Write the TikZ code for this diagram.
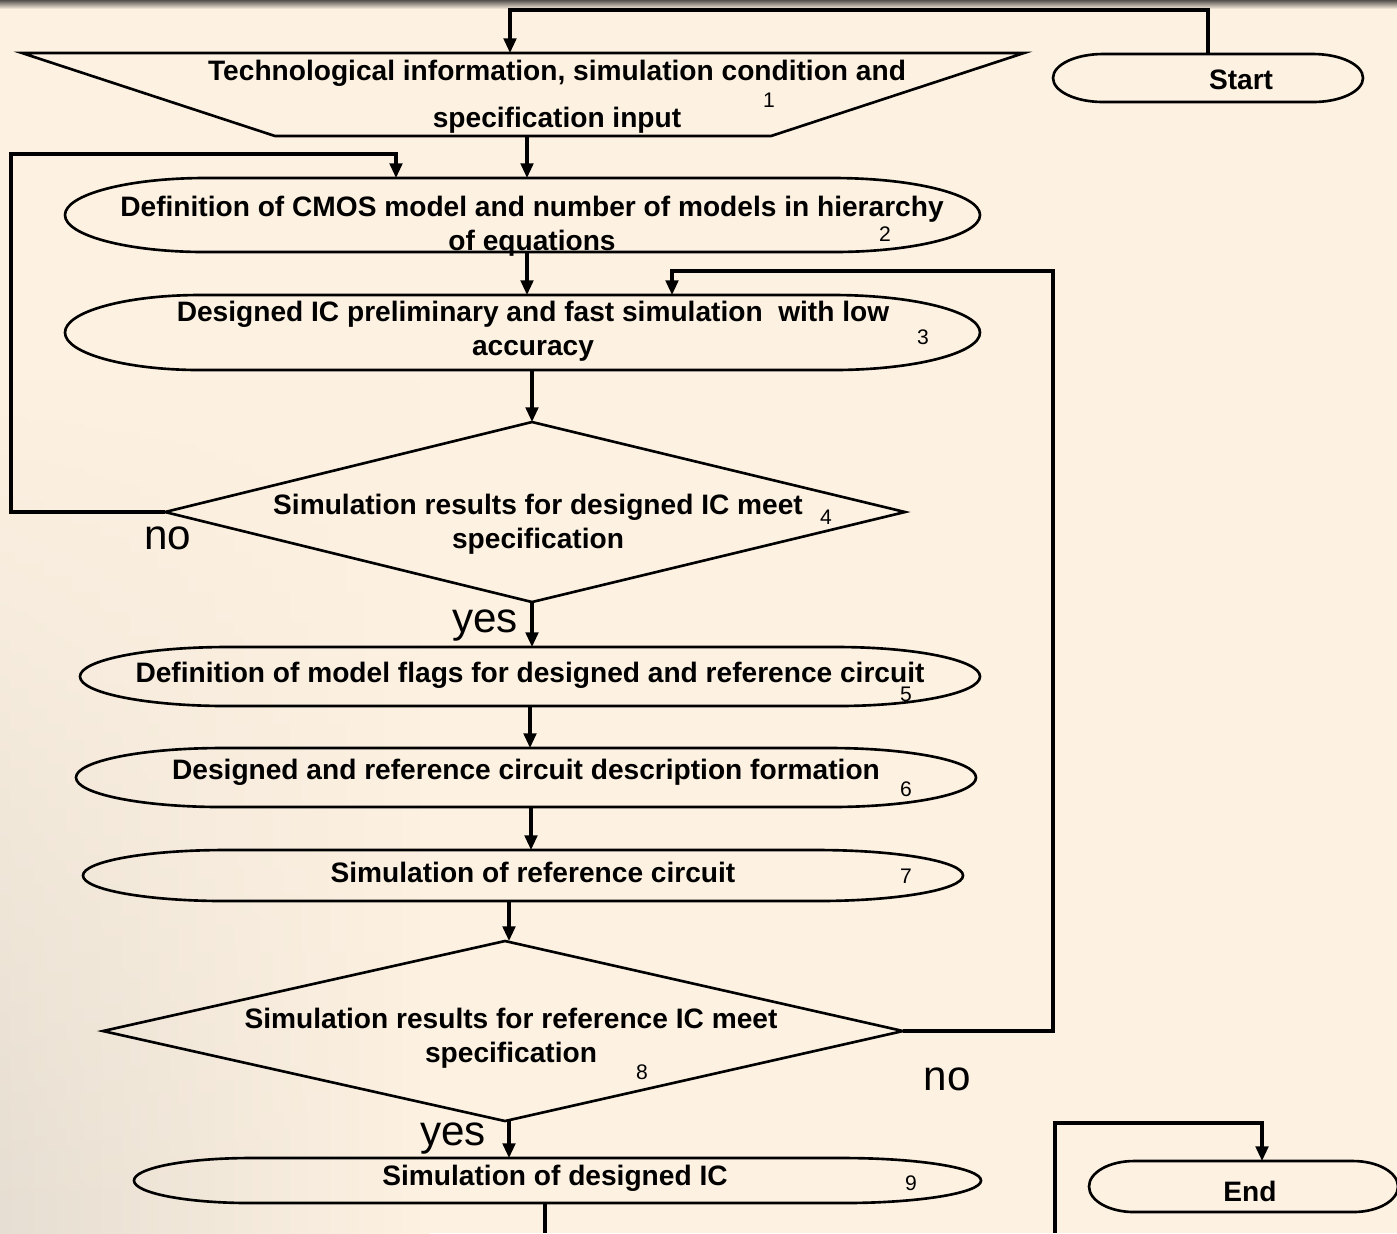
\documentclass[tikz,border=0pt]{standalone}
\usepackage{fontspec}
\setmainfont{Liberation Sans}
\usetikzlibrary{arrows.meta,fadings}
\definecolor{paper}{RGB}{253,241,225}
\definecolor{paperdark}{RGB}{230,222,210}
\definecolor{bandtop}{RGB}{85,80,75}

% process block: rounded ends made of half ellipses
% #1 left x, #2 right x, #3 top y, #4 bottom y, #5 left radius, #6 right radius
\newcommand\flowproc[6]{%
  \pgfmathsetmacro\fpm{(#3+#4)/2}%
  \pgfmathsetmacro\fph{(#4-#3)/2*0.5523}%
  \pgfmathsetmacro\fpa{#1+#5}%
  \pgfmathsetmacro\fpb{#2-#6}%
  \pgfmathsetmacro\fpkl{#5*0.5523}%
  \pgfmathsetmacro\fpkr{#6*0.5523}%
  \draw[outline] (\fpa,#3) -- (\fpb,#3)
    .. controls ({\fpb+\fpkr},#3) and (#2,{\fpm-\fph}) .. (#2,\fpm)
    .. controls (#2,{\fpm+\fph}) and ({\fpb+\fpkr},#4) .. (\fpb,#4)
    -- (\fpa,#4)
    .. controls ({\fpa-\fpkl},#4) and (#1,{\fpm+\fph}) .. (#1,\fpm)
    .. controls (#1,{\fpm-\fph}) and ({\fpa-\fpkl},#3) .. cycle;}

\begin{document}
\begin{tikzpicture}[x=0.1mm,y=-0.1mm,
  outline/.style={draw=black,line width=0.75pt},
  conn/.style={draw=black,line width=0.9pt},
  arr/.style={conn,-{Triangle[length=4.2pt,width=3.6pt]}},
  lbl/.style={font=\bfseries\fontsize{8}{9.6}\selectfont,align=center,inner sep=0pt},
  num/.style={font=\fontsize{6}{7}\selectfont,inner sep=0pt},
  yn/.style={font=\fontsize{12}{14}\selectfont,inner sep=0pt}]
\useasboundingbox (0,0) rectangle (1397,1233);
\begin{scope}
\clip (0,0) rectangle (1397,1233);
% paper and its shading
\fill[paper] (0,0) rectangle (1397,1233);
\shade[left color=paperdark,right color=paper,path fading=north] (0,380) rectangle (430,1233);
\shade[top color=bandtop,bottom color=paper] (0,0) rectangle (1397,9);

% ---- blocks ----
\draw[outline] (22,53) -- (1024,53) -- (771,136) -- (275,136) -- cycle;
\node[lbl,font=\bfseries\fontsize{8}{13.4}\selectfont] (n1) at (557,97)
  {Technological information, simulation condition and\\specification input};
\node[num] (k1) at (769,100) {1};

\flowproc{1053}{1363}{54}{102}{50}{50}
\node[lbl] (start) at (1241,80) {Start};

\flowproc{65}{980}{178}{252}{140}{147}
\node[lbl] (n2) at (532,226) {Definition of CMOS model and number of models in hierarchy\\of equations};
\node[num] (k2) at (885,234) {2};

\flowproc{65}{980}{295}{370}{135}{147}
\node[lbl] (n3) at (533,331) {Designed IC preliminary and fast simulation\ \ with low\\accuracy};
\node[num] (k3) at (923,337) {3};

\draw[outline] (532,422) coordinate (d4t) -- (905,512) coordinate (d4r)
  -- (532,602) coordinate (d4b) -- (165,512) coordinate (d4l) -- cycle;
\node[lbl] (n4) at (538,524) {Simulation results for designed IC meet\\specification};
\node[num] (k4) at (826,517) {4};

\flowproc{80}{980}{647}{706}{147}{143}
\node[lbl] (n5) at (530,675) {Definition of model flags for designed and reference circuit};
\node[num] (k5) at (906,694) {5};

\flowproc{76}{976}{748}{807}{146}{146}
\node[lbl] (n6) at (526,772) {Designed and reference circuit description formation};
\node[num] (k6) at (906,789) {6};

\flowproc{83}{963}{850}{901}{142}{146}
\node[lbl] (n7) at (533,872) {Simulation of reference circuit};
\node[num] (k7) at (906,876) {7};

\draw[outline] (505,941) coordinate (d8t) -- (903,1031) coordinate (d8r)
  -- (505,1121) coordinate (d8b) -- (103,1031) coordinate (d8l) -- cycle;
\node[lbl] (n8) at (511,1038) {Simulation results for reference IC meet\\specification};
\node[num] (k8) at (642,1072) {8};

\flowproc{134}{981}{1158}{1203}{116}{138}
\node[lbl] (n9) at (555,1178) {Simulation of designed IC};
\node[num] (k9) at (911,1183) {9};

\flowproc{1089}{1398}{1161}{1212}{45}{45}
\node[lbl] (end) at (1250,1191) {End};

% ---- connector end points on the block outlines ----
\coordinate (s-top) at (1208,54);
\coordinate (b1-top) at (510,53);
\coordinate (b1-bot) at (527,136);
\coordinate (b2-top) at (527,178);
\coordinate (b2-loop) at (396,178);
\coordinate (b2-bot) at (527,252);
\coordinate (b3-top) at (527,295);
\coordinate (b3-loop) at (672,295);
\coordinate (b3-bot) at (532,370);
\coordinate (b5-top) at (532,647);
\coordinate (b5-bot) at (530,706);
\coordinate (b6-top) at (530,748);
\coordinate (b6-bot) at (531,807);
\coordinate (b7-top) at (531,850);
\coordinate (b7-bot) at (509,901);
\coordinate (d8-in) at (509,941);
\coordinate (d8-out) at (509,1121);
\coordinate (b9-top) at (509,1158);
\coordinate (b9-bot) at (545,1203);
\coordinate (b9-free) at (545,1233);
\coordinate (e-free) at (1055,1233);
\coordinate (e-top) at (1262,1161);

% ---- connectors ----
\draw[arr] (s-top) |- (1208,10) -| (b1-top);
\draw[arr] (b1-bot) -- (b2-top);
\draw[arr] (d4l) -- (11,512) |- (396,154) -- (b2-loop);
\draw[arr] (b2-bot) -- (b3-top);
\draw[arr] (b3-bot) -- (d4t);
\draw[arr] (d4b) -- (b5-top);
\draw[arr] (b5-bot) -- (b6-top);
\draw[arr] (b6-bot) -- (b7-top);
\draw[arr] (b7-bot) -- (d8-in);
\draw[arr] (d8r) -- (1053,1031) |- (672,271) -- (b3-loop);
\draw[arr] (d8-out) -- (b9-top);
\draw[conn] (b9-bot) -- (b9-free);
\draw[arr] (e-free) |- (1262,1123) -- (e-top);

% ---- branch labels ----
\node[yn] (no4) at (168,538) {no};
\node[yn] (yes4) at (485,625) {yes};
\node[yn] (no8) at (947,1079) {no};
\node[yn] (yes8) at (453,1138) {yes};
\end{scope}
\end{tikzpicture}
\end{document}
